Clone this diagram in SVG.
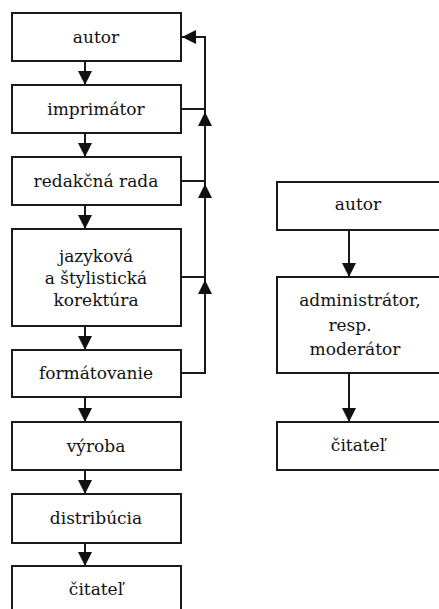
<svg xmlns="http://www.w3.org/2000/svg" xmlns:xlink="http://www.w3.org/1999/xlink" width="439" height="609" viewBox="0 0 439 609">
<style>
.box{fill:#fff;stroke:#1a1a1a;stroke-width:2}
.ln{fill:none;stroke:#1a1a1a;stroke-width:2}
.ah{fill:#111}
text{font-family:"DejaVu Serif","Liberation Serif",serif;font-size:17px;fill:#111;text-anchor:middle}
</style>
<defs>
<path id="ah" class="ah" d="M0,0 L-7,-14 L7,-14 Z"/>
</defs>
<rect width="439" height="609" fill="#fff"/>
<g id="connectors">
<path class="ln" d="M85,61 V85 M85,133 V157 M85,205 V229 M85,326 V350 M85,397 V422 M85,470 V494 M85,543 V566"/>
<path class="ln" d="M182,37 H205 V373 H181 M181,109 H205 M181,181 H205 M181,277 H205"/>
<path class="ln" d="M349,230 V277 M349,373 V422"/>
<use xlink:href="#ah" transform="translate(85,85)"/>
<use xlink:href="#ah" transform="translate(85,157)"/>
<use xlink:href="#ah" transform="translate(85,229)"/>
<use xlink:href="#ah" transform="translate(85,350)"/>
<use xlink:href="#ah" transform="translate(85,422)"/>
<use xlink:href="#ah" transform="translate(85,494)"/>
<use xlink:href="#ah" transform="translate(85,566)"/>
<use xlink:href="#ah" transform="translate(205,112) rotate(180)"/>
<use xlink:href="#ah" transform="translate(205,184) rotate(180)"/>
<use xlink:href="#ah" transform="translate(205,280) rotate(180)"/>
<use xlink:href="#ah" transform="translate(182,37) rotate(90)"/>
<use xlink:href="#ah" transform="translate(349,277)"/>
<use xlink:href="#ah" transform="translate(349,422)"/>
</g>
<g id="n-autor"><rect class="box" x="12" y="13" width="169" height="48"/><text x="96" y="43">autor</text></g>
<g id="n-imprimator"><rect class="box" x="12" y="85" width="169" height="48"/><text x="96" y="115">imprimátor</text></g>
<g id="n-redakcna"><rect class="box" x="12" y="157" width="169" height="48"/><text x="96" y="187">redakčná rada</text></g>
<g id="n-jazykova"><rect class="box" x="12" y="229" width="169" height="97"/><text x="96" y="262">jazyková</text><text x="96" y="284">a štylistická</text><text x="96" y="306">korektúra</text></g>
<g id="n-formatovanie"><rect class="box" x="12" y="350" width="169" height="47"/><text x="96" y="379">formátovanie</text></g>
<g id="n-vyroba"><rect class="box" x="12" y="422" width="169" height="48"/><text x="96" y="452">výroba</text></g>
<g id="n-distribucia"><rect class="box" x="12" y="494" width="169" height="49"/><text x="96" y="524">distribúcia</text></g>
<g id="n-citatel"><rect class="box" x="12" y="566" width="169" height="48"/><text x="96" y="595">čitateľ</text></g>
<g id="r-autor"><rect class="box" x="277" y="182" width="170" height="48"/><text x="358" y="210">autor</text></g>
<g id="r-admin"><rect class="box" x="277" y="277" width="170" height="96"/><text x="360" y="306">administrátor,</text><text x="350" y="331">resp.</text><text x="355" y="355">moderátor</text></g>
<g id="r-citatel"><rect class="box" x="277" y="422" width="170" height="48"/><text x="358" y="451">čitateľ</text></g>
</svg>
